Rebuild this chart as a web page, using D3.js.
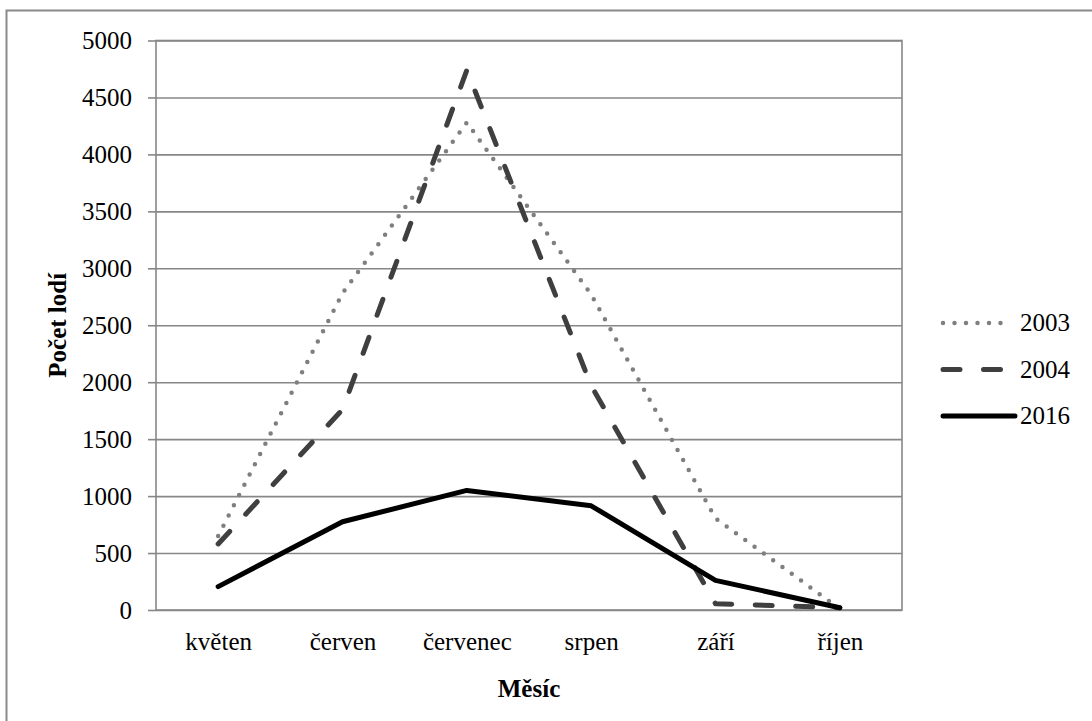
<!DOCTYPE html>
<html>
<head>
<meta charset="utf-8">
<script src="https://cdn.jsdelivr.net/npm/d3@7"></script>
<style>
  html, body { margin: 0; padding: 0; background: #fff; }
  svg { display: block; }
  svg text { font-family: "Liberation Serif", Tinos, "DejaVu Serif", serif !important; fill: #000; }
</style>
</head>
<body>
<svg id="chart" width="1092" height="721"></svg>
<script>
// Months of the sailing season
const months = ["květen", "červen", "červenec", "srpen", "září", "říjen"];
// Number of boats per month, by year
const boats2003 = [650, 2780, 4280, 2770, 805, 10];
const boats2004 = [580, 1760, 4740, 1970, 55, 20];
const boats2016 = [205, 775, 1050, 915, 260, 20];
const yTicks = [0, 500, 1000, 1500, 2000, 2500, 3000, 3500, 4000, 4500, 5000];
const years = ["2003", "2004", "2016"];

const serif = "'Liberation Serif', Tinos, 'DejaVu Serif', serif";

const series = [
  { name: years[0], values: boats2003, color: "#7f7f7f", width: 4.5, dash: "0 11.5" },
  { name: years[1], values: boats2004, color: "#3f3f3f", width: 5, dash: "17 23.5" },
  { name: years[2], values: boats2016, color: "#000000", width: 5, dash: null }
];

const svg = d3.select("#chart");
const plot = { left: 156, right: 902, top: 40.5, bottom: 610 };

// Outer frame
svg.append("path")
  .attr("d", "M6.5,740 V10.5 H1100")
  .attr("fill", "none")
  .attr("stroke", "#8a8a8a")
  .attr("stroke-width", 2);

const x = d3.scalePoint().domain(months).range([plot.left, plot.right]).padding(0.5);
const y = d3.scaleLinear().domain([0, 5000]).range([plot.bottom, plot.top]);

// Horizontal gridlines
const grid = svg.append("g")
  .attr("transform", `translate(${plot.left},0)`)
  .call(d3.axisLeft(y).tickValues(yTicks).tickSize(-(plot.right - plot.left)).tickFormat(""));
grid.select(".domain").remove();
grid.selectAll(".tick line").attr("stroke", "#878787").attr("stroke-width", 1.6);

// Value axis with outer ticks and labels
const yAxis = svg.append("g")
  .attr("transform", `translate(${plot.left},0)`)
  .attr("font-family", serif)
  .call(d3.axisLeft(y).tickValues(yTicks).tickSize(8).tickPadding(16).tickFormat(d3.format("d")));
yAxis.attr("font-family", serif).attr("font-size", 25);
yAxis.select(".domain").remove();
yAxis.selectAll(".tick line").attr("stroke", "#878787").attr("stroke-width", 1.6);
yAxis.selectAll(".tick text").attr("fill", "#000");

// Plot area border
svg.append("rect")
  .attr("x", plot.left).attr("y", plot.top)
  .attr("width", plot.right - plot.left).attr("height", plot.bottom - plot.top)
  .attr("fill", "none").attr("stroke", "#878787").attr("stroke-width", 1.6);

// Category axis labels
const xAxis = svg.append("g")
  .attr("transform", `translate(0,${plot.bottom})`)
  .call(d3.axisBottom(x).tickSize(0).tickPadding(22));
xAxis.attr("font-family", serif).attr("font-size", 25);
xAxis.select(".domain").remove();
xAxis.selectAll(".tick text").attr("fill", "#000");

// Series lines
const line = d3.line().x((d, i) => x(months[i])).y(d => y(d));
series.forEach(s => {
  svg.append("path")
    .datum(s.values)
    .attr("d", line)
    .attr("fill", "none")
    .attr("stroke", s.color)
    .attr("stroke-width", s.width)
    .attr("stroke-linecap", "round")
    .attr("stroke-linejoin", "round")
    .attr("stroke-dasharray", s.dash);
});

// Axis titles
svg.append("text")
  .attr("transform", `translate(66,${(plot.top + plot.bottom) / 2}) rotate(-90)`)
  .attr("text-anchor", "middle")
  .attr("font-family", serif)
  .attr("font-size", 25)
  .attr("font-weight", "bold")
  .text("Počet lodí");

svg.append("text")
  .attr("x", (plot.left + plot.right) / 2)
  .attr("y", 697)
  .attr("text-anchor", "middle")
  .attr("font-family", serif)
  .attr("font-size", 25)
  .attr("font-weight", "bold")
  .text("Měsíc");

// Legend
const legend = svg.append("g").attr("transform", "translate(943,323)");
series.forEach((s, i) => {
  const g = legend.append("g").attr("transform", `translate(0,${i * 46.5})`);
  g.append("line")
    .attr("x1", 0).attr("x2", s.dash ? 64 : 72)
    .attr("y1", 0).attr("y2", 0)
    .attr("stroke", s.color)
    .attr("stroke-width", s.width)
    .attr("stroke-linecap", "round")
    .attr("stroke-dasharray", s.dash);
  g.append("text")
    .attr("x", 77)
    .attr("y", 0)
    .attr("dy", "0.33em")
    .attr("font-family", serif)
    .attr("font-size", 25)
    .text(s.name);
});
</script>
</body>
</html>
